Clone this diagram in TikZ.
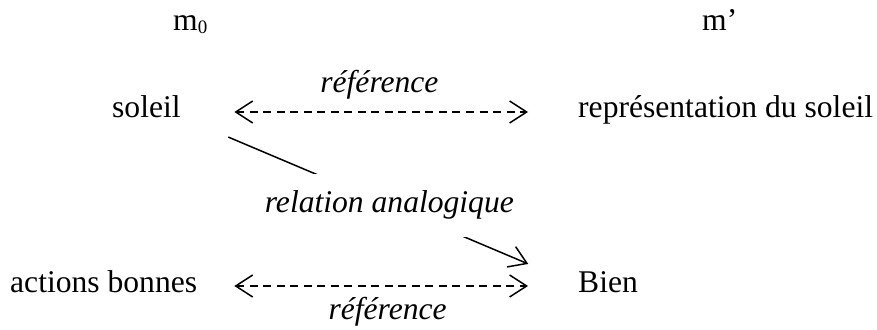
\documentclass[tikz,border=0pt]{standalone}
\usepackage{fontspec}
\setmainfont{Liberation Serif}
\usetikzlibrary{arrows.meta}

\begin{document}
\begin{tikzpicture}[x=1pt,y=-1pt,
    txt/.style={inner sep=0pt,anchor=base west,text height=22pt,text depth=8pt,font=\fontsize{31.6}{38}\selectfont},
    lab/.style={txt,anchor=center,font=\fontsize{31.6}{38}\selectfont\itshape},
    refarr/.style={line width=1.5pt,dash pattern=on 8pt off 5.5pt,
        {Straight Barb[length=17pt,width=22pt]}-{Straight Barb[length=17pt,width=22pt]}},
    anarr/.style={line width=1.5pt,-{Straight Barb[length=17pt,width=22pt]}}]
    \useasboundingbox (0,0) rectangle (877,329);
    \node[txt] (m0) at (173,31) {m\raisebox{-2.5pt}{\fontsize{19}{19}\selectfont 0}};
    \node[txt] (m1) at (702,31) {m’};
    \node[txt] (soleil) at (112,117) {soleil};
    \node[txt] (repr) at (578,117) {représentation du soleil};
    \node[txt] (actions) at (10,292) {actions bonnes};
    \node[txt] (bien) at (578,292) {Bien};
    \draw[refarr,shorten <=53.5pt,shorten >=50pt] ([yshift=-2pt]soleil.east)
        -- node[lab,above=11pt] {référence} ([yshift=-2pt]repr.west);
    \draw[refarr,shorten <=37pt,shorten >=50pt] ([yshift=-1pt]actions.east)
        -- node[lab,below=11pt] {référence} ([yshift=-1pt]bien.west);
    \draw[anarr,shorten <=51.5pt,shorten >=54pt] (soleil.base east)
        -- node[lab,pos=0.525,fill=white,inner ysep=16.5pt] {relation analogique} (bien.west);
\end{tikzpicture}
\end{document}
